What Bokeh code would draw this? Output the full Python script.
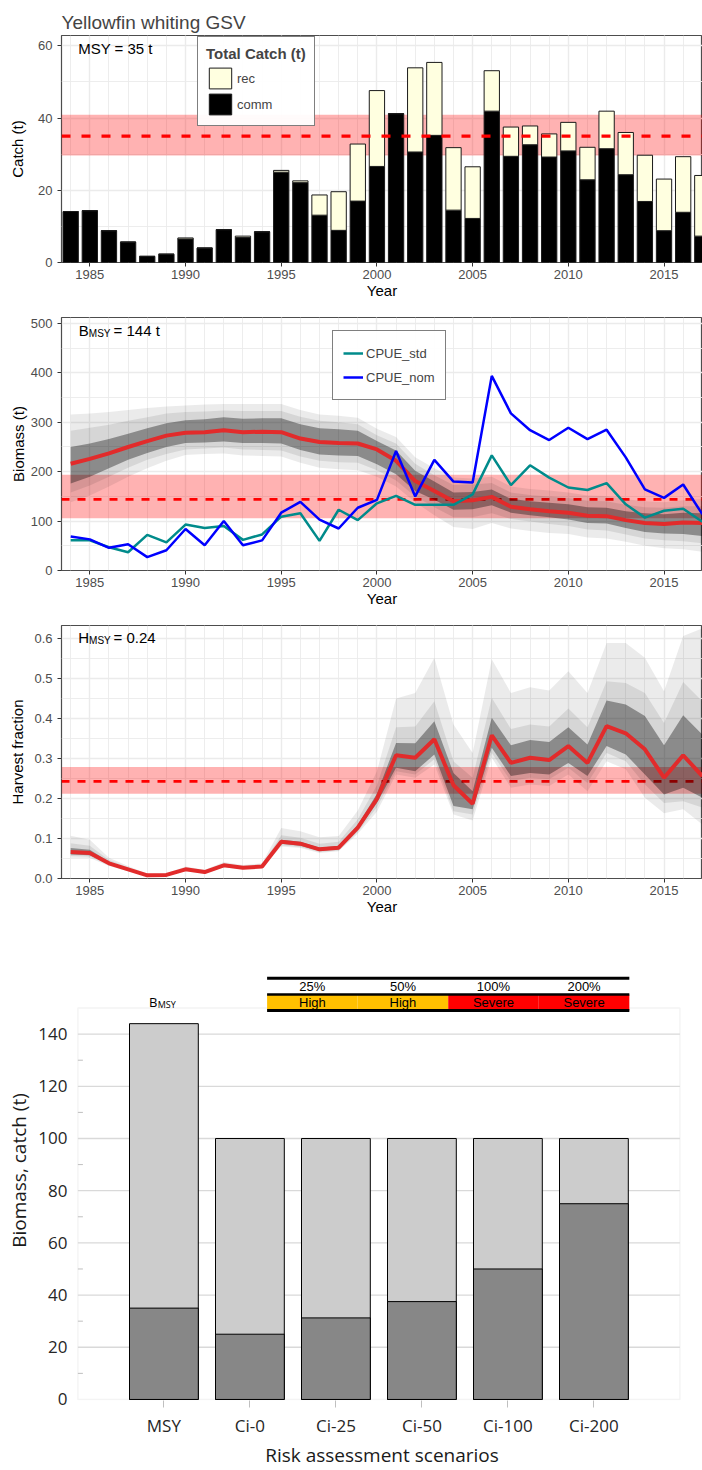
import math
from bokeh.plotting import figure
from bokeh.layouts import column
from bokeh.models import (Range1d, FixedTicker, PrintfTickFormatter, BoxAnnotation, Span,
                          Legend, LegendItem, Label, ColumnDataSource, Title)
from bokeh.core.properties import value
from bokeh.embed import file_html
from bokeh.resources import INLINE

# ---------------------------------------------------------------- data
years = list(range(1984, 2018))

# catch by sector (t)
comm_catch = [14.1, 14.35, 8.8, 5.65, 1.7, 2.3, 6.5, 4.0, 9.1, 6.9,
              8.5, 25.0, 22.1, 13.1, 8.9, 17.0, 26.6, 41.2, 30.6, 35.2,
              14.5, 12.2, 41.9, 29.4, 32.6, 29.2, 30.9, 22.9, 31.5, 24.3,
              16.9, 8.8, 13.9, 7.3]
rec_catch = [0, 0, 0, 0, 0, 0, 0.3, 0, 0, 0.4,
             0, 0.5, 0.5, 5.6, 10.7, 15.8, 21.0, 0, 23.3, 20.2,
             17.3, 14.3, 11.2, 8.1, 5.2, 6.4, 7.9, 9.0, 10.4, 11.7,
             12.8, 14.3, 15.4, 16.8]
msy = 35
msy_lo, msy_hi = 29.6, 40.9

# biomass (t): median and three credible intervals
bio_med = [216, 226, 237, 250, 262, 273, 279, 280, 284, 280,
           281, 280, 267, 260, 258, 257, 245, 222, 181, 161,
           140, 142, 149, 129, 124, 120, 117, 111, 110, 102,
           96, 94, 97, 96]
bio_in_lo = [176, 190, 207, 224, 238, 250, 258, 259, 261, 258,
             258, 257, 244, 235, 233, 232, 215, 195, 161, 143,
             123, 124, 132, 117, 112, 108, 103, 96, 95, 86,
             78, 75, 74, 70]
bio_in_hi = [250, 257, 266, 277, 288, 298, 304, 306, 310, 307,
             308, 308, 296, 288, 286, 283, 262, 243, 202, 180,
             158, 159, 164, 145, 140, 137, 134, 128, 127, 120,
             116, 114, 117, 116]
bio_mid_lo = [158, 172, 190, 208, 224, 236, 245, 247, 249, 245,
              244, 243, 231, 222, 219, 218, 203, 182, 150, 128,
              108, 108, 116, 104, 99, 94, 90, 83, 81, 73,
              65, 61, 59, 55]
bio_mid_hi = [283, 289, 295, 303, 310, 318, 321, 322, 324, 323,
              323, 323, 311, 303, 300, 296, 274, 257, 216, 193,
              173, 174, 177, 158, 153, 150, 147, 141, 140, 133,
              128, 127, 130, 130]
bio_out_lo = [138, 152, 170, 190, 207, 222, 234, 236, 237, 233,
              232, 231, 218, 208, 205, 203, 190, 170, 138, 112,
              88, 84, 96, 85, 80, 76, 74, 67, 65, 58,
              50, 45, 43, 38]
bio_out_hi = [316, 318, 321, 325, 329, 332, 334, 336, 337, 337,
              337, 337, 325, 316, 313, 309, 287, 270, 229, 207,
              188, 186, 190, 170, 165, 162, 158, 152, 151, 144,
              140, 138, 142, 145]
cpue_std = [61, 61, 47, 37, 72, 57, 93, 86, 90, 62,
            73, 109, 116, 60, 123, 102, 136, 151, 133, 133,
            133, 154, 233, 173, 213, 188, 168, 163, 177, 134,
            107, 121, 125, 99]
cpue_nom = [69, 63, 46, 53, 27, 41, 84, 51, 100, 51,
            61, 117, 139, 103, 85, 127, 143, 242, 150, 224,
            180, 178, 394, 318, 284, 264, 289, 266, 285, 229,
            164, 147, 174, 114]
bmsy = 144
bmsy_lo, bmsy_hi = 106, 194

# harvest fraction: median and three credible intervals
h_med = [0.066, 0.064, 0.038, 0.023, 0.008, 0.009, 0.023, 0.016, 0.033, 0.027,
         0.030, 0.092, 0.087, 0.073, 0.077, 0.127, 0.199, 0.308, 0.302, 0.348,
         0.233, 0.187, 0.358, 0.289, 0.302, 0.296, 0.331, 0.289, 0.381, 0.363,
         0.323, 0.252, 0.308, 0.256]
h_in_lo = [0.060, 0.058, 0.035, 0.021, 0.007, 0.008, 0.021, 0.014, 0.031, 0.025,
           0.028, 0.087, 0.082, 0.069, 0.073, 0.121, 0.189, 0.277, 0.268, 0.310,
           0.181, 0.173, 0.327, 0.256, 0.264, 0.260, 0.289, 0.256, 0.331, 0.310,
           0.260, 0.210, 0.227, 0.202]
h_in_hi = [0.076, 0.072, 0.042, 0.025, 0.009, 0.010, 0.025, 0.018, 0.035, 0.029,
           0.032, 0.097, 0.092, 0.077, 0.082, 0.134, 0.212, 0.339, 0.338, 0.393,
           0.264, 0.218, 0.402, 0.333, 0.346, 0.341, 0.378, 0.335, 0.445, 0.435,
           0.406, 0.333, 0.408, 0.360]
h_mid_lo = [0.056, 0.055, 0.033, 0.020, 0.006, 0.007, 0.020, 0.013, 0.029, 0.024,
            0.027, 0.083, 0.079, 0.066, 0.070, 0.116, 0.178, 0.268, 0.260, 0.298,
            0.168, 0.160, 0.314, 0.243, 0.252, 0.248, 0.277, 0.239, 0.314, 0.293,
            0.235, 0.189, 0.193, 0.177]
h_mid_hi = [0.088, 0.082, 0.046, 0.028, 0.010, 0.011, 0.027, 0.020, 0.038, 0.031,
            0.035, 0.108, 0.102, 0.087, 0.092, 0.148, 0.233, 0.378, 0.380, 0.443,
            0.293, 0.252, 0.452, 0.374, 0.385, 0.380, 0.425, 0.378, 0.493, 0.489,
            0.464, 0.389, 0.491, 0.443]
h_out_lo = [0.052, 0.051, 0.031, 0.018, 0.005, 0.006, 0.019, 0.012, 0.028, 0.023,
            0.026, 0.080, 0.076, 0.064, 0.068, 0.112, 0.167, 0.260, 0.252, 0.285,
            0.160, 0.145, 0.302, 0.227, 0.235, 0.231, 0.260, 0.218, 0.293, 0.273,
            0.202, 0.163, 0.173, 0.135]
h_out_hi = [0.107, 0.097, 0.052, 0.031, 0.012, 0.013, 0.030, 0.022, 0.041, 0.034,
            0.038, 0.126, 0.118, 0.103, 0.106, 0.170, 0.268, 0.450, 0.464, 0.552,
            0.385, 0.314, 0.548, 0.464, 0.478, 0.470, 0.518, 0.464, 0.589, 0.589,
            0.552, 0.468, 0.606, 0.625]
hmsy = 0.243
hmsy_lo, hmsy_hi = 0.212, 0.279

# risk assessment scenarios
scenarios = ["MSY", "Ci-0", "Ci-25", "Ci-50", "Ci-100", "Ci-200"]
scen_biomass = [144, 100, 100, 100, 100, 100]
scen_catch = [35, 25, 31.25, 37.5, 50, 75]
catch_increase = ["25%", "50%", "100%", "200%"]
risk_level = ["High", "High", "Severe", "Severe"]
risk_colour = ["#FFC000", "#FFC000", "#FF0000", "#FF0000"]

# ---------------------------------------------------------------- styling
FONT = "Liberation Sans"
XL_FONT = "Open Sans"
X_START, X_END = 1983.52, 2017.01
GRID = "#EBEBEB"
MED_RED = "#E22B2B"
BORDER_L, BORDER_R = 61, 0


def ts_figure(height, top_border, y_end, ylabel, yticks, yminor, ylab_standoff):
    p = figure(width=702, height=height, output_backend="svg", toolbar_location=None,
               x_range=Range1d(X_START, X_END), y_range=Range1d(0, y_end),
               min_border_left=BORDER_L, min_border_right=BORDER_R,
               min_border_top=top_border, min_border_bottom=46)
    p.outline_line_color = "#4D4D4D"
    p.outline_line_width = 1.2
    xt = FixedTicker(ticks=list(range(1985, 2016, 5)), minor_ticks=years)
    yt = FixedTicker(ticks=yticks, minor_ticks=yminor)
    p.xaxis.ticker = xt
    p.yaxis.ticker = yt
    p.xgrid.ticker = xt
    p.ygrid.ticker = yt
    p.grid.grid_line_color = GRID
    p.grid.grid_line_width = 1.4
    p.grid.minor_grid_line_color = GRID
    p.grid.minor_grid_line_width = 0.9
    p.axis.axis_line_color = None
    p.axis.major_tick_line_color = "#333333"
    p.axis.major_tick_out = 4
    p.axis.major_tick_in = 0
    p.axis.minor_tick_line_color = None
    p.axis.major_label_text_font = FONT
    p.axis.major_label_text_font_size = "13px"
    p.axis.major_label_text_color = "#4D4D4D"
    p.axis.axis_label_text_font = FONT
    p.axis.axis_label_text_font_size = "15px"
    p.axis.axis_label_text_font_style = "normal"
    p.axis.axis_label_text_color = "black"
    p.xaxis.axis_label = "Year"
    p.xaxis.major_label_standoff = 3
    p.xaxis.axis_label_standoff = 0
    p.yaxis.axis_label = ylabel
    p.yaxis.major_label_standoff = 5
    p.yaxis.axis_label_standoff = ylab_standoff
    return p


def ref_band(p, lo, hi):
    p.add_layout(BoxAnnotation(bottom=lo, top=hi, fill_color="red", fill_alpha=0.3,
                               line_alpha=0, level="underlay"))


def ref_line(p, loc, width, dash, level="annotation"):
    p.add_layout(Span(location=loc, dimension="width", line_color="red",
                      line_width=width, line_dash=dash, level=level))


def text_at(p, x, y, txt, size, font=FONT, align="left", baseline="alphabetic"):
    p.add_layout(Label(x=x, y=y, text=txt, text_font=font, text_font_size=size,
                       text_align=align, text_baseline=baseline, text_color="black"))


# ---------------------------------------------------------------- catch
p1 = ts_figure(308, 35, 62.85, "Catch (t)", [0, 20, 40, 60], [10, 30, 50], 9)
p1.title.text = "Yellowfin whiting GSV"
p1.title.text_font = FONT
p1.title.text_font_size = "19px"
p1.title.text_font_style = "normal"
p1.title.align = "left"
p1.title.standoff = 6
ref_band(p1, msy_lo, msy_hi)
src = ColumnDataSource(dict(year=years, comm=comm_catch, rec=rec_catch))
bars = p1.vbar_stack(["comm", "rec"], x="year", width=0.8, source=src,
                     fill_color=["black", "#FFFFE0"], line_color="#1A1A1A", line_width=1)
ref_line(p1, msy, 3.3, "9 11")
text_at(p1, 1984.39, 59.2, f"MSY = {msy} t", "15px")
leg1 = Legend(items=[LegendItem(label="rec", renderers=[bars[1]]),
                     LegendItem(label="comm", renderers=[bars[0]])],
              title="Total Catch (t)", location=(136, 136))
leg1.title_text_font = FONT
leg1.title_text_font_size = "15px"
leg1.title_text_font_style = "bold"
leg1.title_standoff = 3
leg1.label_text_font = FONT
leg1.label_text_font_size = "13px"
leg1.glyph_width = 28
leg1.glyph_height = 26
leg1.label_height = 26
leg1.label_standoff = 3
leg1.spacing = 0
leg1.padding = 8
leg1.margin = 0
leg1.border_line_color = "black"
leg1.border_line_width = 1.5
p1.add_layout(leg1)

# ---------------------------------------------------------------- biomass
p2 = ts_figure(308, 9, 512.1, "Biomass (t)", list(range(0, 501, 100)),
               list(range(50, 500, 100)), 1)
ref_band(p2, bmsy_lo, bmsy_hi)
ref_line(p2, bmsy, 2.7, "8 8", level="underlay")
p2.varea(x=years, y1=bio_out_lo, y2=bio_out_hi, fill_color="black", fill_alpha=0.08)
p2.varea(x=years, y1=bio_mid_lo, y2=bio_mid_hi, fill_color="black", fill_alpha=0.085)
p2.varea(x=years, y1=bio_in_lo, y2=bio_in_hi, fill_color="black", fill_alpha=0.35)
p2.line(x=years, y=bio_med, line_color=MED_RED, line_width=4)
r_std = p2.line(x=years, y=cpue_std, line_color="#008B8B", line_width=2.5)
r_nom = p2.line(x=years, y=cpue_nom, line_color="#0000FF", line_width=2.5)
text_at(p2, 1984.42, 485.8, "B", "15px")
text_at(p2, 1984.95, 479.8, "MSY", "10px")
text_at(p2, 1986.24, 485.8, f"= {bmsy} t", "15px")
leg2 = Legend(items=[LegendItem(label="CPUE_std", renderers=[r_std]),
                     LegendItem(label="CPUE_nom", renderers=[r_nom])],
              location=(271, 170))
leg2.label_text_font = FONT
leg2.label_text_font_size = "13px"
leg2.glyph_width = 20
leg2.glyph_height = 24
leg2.label_height = 24
leg2.label_standoff = 3
leg2.spacing = 0
leg2.padding = 10
leg2.margin = 0
leg2.border_line_color = "black"
leg2.border_line_width = 1.5
p2.add_layout(leg2)

# ---------------------------------------------------------------- harvest fraction
hticks = [0.0, 0.1, 0.2, 0.3, 0.4, 0.5, 0.6]
p3 = ts_figure(308, 9, 0.6325, "Harvest fraction", hticks,
               [0.05, 0.15, 0.25, 0.35, 0.45, 0.55], 5)
p3.yaxis.formatter = PrintfTickFormatter(format="%.1f")
ref_band(p3, hmsy_lo, hmsy_hi)
ref_line(p3, hmsy, 2.7, "8 8", level="underlay")
p3.varea(x=years, y1=h_out_lo, y2=h_out_hi, fill_color="black", fill_alpha=0.08)
p3.varea(x=years, y1=h_mid_lo, y2=h_mid_hi, fill_color="black", fill_alpha=0.085)
p3.varea(x=years, y1=h_in_lo, y2=h_in_hi, fill_color="black", fill_alpha=0.35)
p3.line(x=years, y=h_med, line_color=MED_RED, line_width=4)
text_at(p3, 1984.39, 0.603, "H", "15px")
text_at(p3, 1984.96, 0.596, "MSY", "10px")
text_at(p3, 1986.24, 0.603, f"= {hmsy:.2f}", "15px")

# ---------------------------------------------------------------- risk scenarios
# The plot box spans categories 0..7; the frame is a little wider so that it
# lines up with the panels above.
N_SLOTS = len(scenarios) + 1
PX_PER_UNIT = 86.0
BOX_LEFT_PX = 16.4          # plot box inset from frame edge
BOX_TOP = 150
FRAME4_H = 465
Y_PX_PER_UNIT = 2.638
x4_start = -BOX_LEFT_PX / PX_PER_UNIT
x4_end = x4_start + (702 - BORDER_L - BORDER_R) / PX_PER_UNIT
y4_start = -0.4
y4_end = y4_start + FRAME4_H / Y_PX_PER_UNIT

p4 = figure(width=702, height=546, output_backend="svg", toolbar_location=None,
            x_range=Range1d(x4_start, x4_end), y_range=Range1d(y4_start, y4_end),
            min_border_left=BORDER_L, min_border_right=BORDER_R,
            min_border_top=16, min_border_bottom=65)
p4.outline_line_color = None
p4.grid.visible = False

ytick4 = list(range(0, 141, 20))
yminor4 = list(range(10, 140, 20))
grid_vals = ytick4[1:]
p4.segment(x0=[0] * len(grid_vals), x1=[N_SLOTS] * len(grid_vals), y0=grid_vals, y1=grid_vals,
           line_color="#D9D9D9", line_width=1.3)
p4.segment(x0=[0] * len(yminor4), x1=[5 / PX_PER_UNIT] * len(yminor4), y0=yminor4, y1=yminor4,
           line_color="#BFBFBF", line_width=1)
p4.add_layout(BoxAnnotation(left=0, right=N_SLOTS, bottom=0, top=BOX_TOP,
                            fill_alpha=0, line_color="#D9D9D9", line_width=1.5,
                            level="underlay"))

xpos = [i + 1 for i in range(len(scenarios))]
p4.vbar(x=xpos, top=scen_biomass, width=0.8, fill_color="#CCCCCC",
        line_color="black", line_width=1)
p4.vbar(x=xpos, top=scen_catch, width=0.8, fill_color="#878787",
        line_color="black", line_width=1)

p4.xaxis.ticker = FixedTicker(ticks=xpos)
p4.xaxis.major_label_overrides = {x: s for x, s in zip(xpos, scenarios)}
p4.xaxis.axis_line_color = None
p4.xaxis.major_tick_line_color = "#BFBFBF"
p4.xaxis.major_tick_out = 7
p4.xaxis.major_tick_in = 0
p4.xaxis.minor_tick_line_color = None
p4.xaxis.major_label_standoff = 6
p4.xaxis.axis_label = "Risk assessment scenarios"
p4.xaxis.axis_label_standoff = 2
p4.yaxis.ticker = FixedTicker(ticks=ytick4)
p4.yaxis.axis_line_color = None
p4.yaxis.major_tick_line_color = None
p4.yaxis.minor_tick_line_color = None
p4.yaxis.major_tick_out = 0
p4.yaxis.major_tick_in = 0
p4.yaxis.major_label_standoff = -6
p4.yaxis.major_label_text_baseline = "alphabetic"
p4.axis.major_label_text_font = XL_FONT
p4.axis.major_label_text_font_size = "17px"
p4.axis.major_label_text_color = "#262626"
p4.axis.axis_label_text_font = XL_FONT
p4.axis.axis_label_text_font_size = "19px"
p4.axis.axis_label_text_font_style = "normal"
p4.axis.axis_label_text_color = "#1A1A1A"

# vertical axis title, centred on the plot box rather than on the frame
frame_mid_px = FRAME4_H / 2
box_mid_px = FRAME4_H - (BOX_TOP / 2 - y4_start) * Y_PX_PER_UNIT
ytitle = Title(text="Biomass, catch (t)", align="center", standoff=7,
               offset=frame_mid_px - box_mid_px,
               text_font=XL_FONT, text_font_size="19px", text_font_style="normal",
               text_color="#1A1A1A")
p4.add_layout(ytitle, "left")

# B_MSY tag over the first bar
text_at(p4, 0.828, 152.3, "B", "13px", font=XL_FONT)
text_at(p4, 0.928, 151.2, "MSY", "9px", font=XL_FONT)

# risk table above the scenarios
TABLE_X0, CELL_W = 2.2, 1.053
ROW_LOW, ROW_MID, ROW_TOP = 149.0, 155.2, 161.4
cell_l = [TABLE_X0 + i * CELL_W for i in range(len(risk_level))]
cell_r = [l + CELL_W for l in cell_l]
cell_c = [l + CELL_W / 2 for l in cell_l]
p4.quad(left=cell_l, right=cell_r, bottom=ROW_LOW, top=ROW_MID,
        fill_color=risk_colour, line_color=None)
table_x1 = TABLE_X0 + CELL_W * len(risk_level)
p4.segment(x0=[TABLE_X0] * 3, x1=[table_x1] * 3, y0=[ROW_TOP, ROW_MID, ROW_LOW],
           y1=[ROW_TOP, ROW_MID, ROW_LOW], line_color="black", line_width=[3, 2.5, 3])
p4.text(x=cell_c, y=[(ROW_MID + ROW_TOP) / 2] * 4, text=catch_increase,
        text_align="center", text_baseline="middle", text_font=value(FONT),
        text_font_size="13px", text_color="black")
p4.text(x=cell_c, y=[(ROW_LOW + ROW_MID) / 2] * 4, text=risk_level,
        text_align="center", text_baseline="middle", text_font=value(FONT),
        text_font_size="13px", text_color="black")

layout = column(p1, p2, p3, p4, spacing=0)
open("out.html", "w").write(file_html(layout, INLINE))
